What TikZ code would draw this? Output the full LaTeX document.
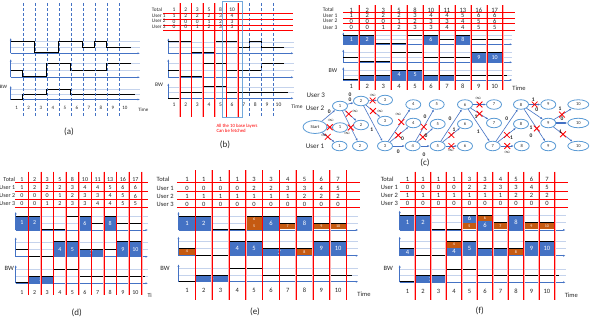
\documentclass[tikz,border=0pt]{standalone}
\usepackage{fontspec}
\setmainfont{Carlito}
\usetikzlibrary{arrows.meta,shapes.geometric,shapes.misc}
\definecolor{bwBlue}{HTML}{4472C4}
\definecolor{bwOrange}{HTML}{C55A11}
\definecolor{bwGrid}{HTML}{C5D3EC}
\definecolor{bwNode}{HTML}{5B9BD5}
\definecolor{bwInk}{HTML}{262626}
\newcommand\bwfs[1]{\fontsize{#1}{#1}\selectfont}
\tikzset{
  bw axis/.style={draw=bwBlue, line width=.6pt, -{Latex[length=2.5pt,width=2pt]}},
  bw grid/.style={draw=bwGrid, line width=.4pt},
  bw step/.style={draw=black, line width=.9pt},
  bw slot/.style={draw=red, line width=.5pt, preaction={draw=red!30, line width=1.6pt}},
  bw row/.style={draw=red, line width=.6pt},
  bw dash/.style={draw=bwBlue, densely dashed, line width=.4pt},
  bw base/.style={fill=bwBlue},
  bw enh/.style={fill=bwOrange},
  bw num/.style={text=white, inner sep=0pt},
  bw tab/.style={inner sep=0pt},
  bw frame/.style n args={4}{shift={(#1,#2)}, x=#3pt, y=#4pt},
  bw node/.style={ellipse, draw=bwNode, line width=.8pt, fill=white, minimum width=15pt, minimum height=9.5pt, inner sep=0pt, font=\bwfs{4.5}},
  bw flow/.style={draw=bwBlue, line width=.6pt, -{Latex[length=2.5pt,width=2pt]}},
  bw cut/.style={cross out, draw=red, line width=.8pt, minimum size=5pt, inner sep=0pt},
  bw wt/.style={font=\bwfs{5.5}\bfseries, inner sep=0pt},
  bw cap/.style={font=\bwfs{9}},
}
% bandwidth steps of the three users, in slots and fractions of the plot height
\def\bwstepA{(0,1) -- (2,1) -- (2,.05) -- (4,.05) -- (4,1) -- (6,1) -- (6,.5) -- (7,.5) -- (7,1) -- (8,1) -- (8,.5) -- (10,.5)}
\def\bwstepB{(0,.5) -- (1,.5) -- (1,.05) -- (3,.05) -- (3,1) -- (5,1) -- (5,.5) -- (8,.5) -- (8,1) -- (10,1)}
\def\bwstepC{(0,.03) -- (1,.03) -- (1,.5) -- (3,.5) -- (3,1) -- (5,1) -- (5,.5) -- (10.3,.5)}
\newcommand\bwplot[3]{%
  \draw[bw grid] (0,1) -- (#2,1) (0,.5) -- (#2,.5);
  #3
  \draw[bw axis] (0,0) -- (0,1.3);
  \draw[bw axis] (0,0) -- (#2,0);
  \draw[bw step] #1;}
\newcounter{bwblk}
\newcommand\bwblk[6][bw base]{%
  \stepcounter{bwblk}%
  \path[#1] (#2,#3) rectangle (#4,#5);
  \node[bw num] (blk\thebwblk) at ({(#2+#4)/2},{(#3+#5)/2}) {#6};}
\begin{document}
\begin{tikzpicture}[x=1pt,y=-1pt,text=bwInk]
\useasboundingbox (0,0) rectangle (598,330);
\fill[white] (0,0) rectangle (598,330);

% (a)
\begin{scope}[bw frame={10.7}{53.3}{12.03}{11.8}]\bwplot{\bwstepA}{10.75}{}\end{scope}
\begin{scope}[bw frame={10.7}{77.3}{12.03}{14}]\bwplot{\bwstepB}{10.75}{}\end{scope}
\begin{scope}[bw frame={10.7}{99.5}{12.03}{10.5}]\bwplot{\bwstepC}{10.75}{}\end{scope}
\begin{scope}[shift={(10.7,0)}, x=12.03pt, font=\bwfs{5}]
  \foreach \k in {1,...,9} \draw[bw dash] (\k,3) -- (\k,117);
  \foreach \k in {1,...,10} \node (as\k) at (\k-.5,107.7) {\k};
\end{scope}
\node[font=\bwfs{5}] (atime) at (143.3,110) {Time};
\node[font=\bwfs{5}] (abw) at (3.5,87.3) {BW};
\node[bw cap] (acap) at (69,132) {(a)};

% (b)
\begin{scope}[bw frame={168.3}{53.3}{11.6}{11.6}]\bwplot{\bwstepA}{10.8}{}\end{scope}
\begin{scope}[bw frame={168.3}{77.3}{11.6}{14}]\bwplot{\bwstepB}{10.8}{}\end{scope}
\begin{scope}[bw frame={168.3}{98.3}{11.6}{11.6}]\bwplot{\bwstepC}{10.8}{}\end{scope}
\begin{scope}[shift={(168.3,0)}, x=11.6pt, font=\bwfs{5.5}]
  \foreach \k in {1,...,6} \draw[bw slot] (\k,3.3) -- (\k,116.7);
  \foreach \k in {7,8,9} \draw[bw dash] (\k,3.3) -- (\k,116.7);
  \foreach \t/\y/\v [count=\i] in {Total/10/{1,2,3,5,8,10}, User 1/15.7/{1,2,2,2,3,4}, User 2/21.3/{0,0,0,1,2,3}, User 3/27/{0,0,1,2,3,3}}{
    \draw[bw row] (-.43,\y+3.5) -- (10.78,\y+3.5);
    \node[bw tab, anchor=west, font=\bwfs{5.2}] (br\i) at (-1.43,\y) {\t};
    \foreach \n [count=\c] in \v \node[bw tab] (b\i-\c) at (\c-.5,\y) {\n};
  }
  \foreach \k in {1,...,10} \node (bs\k) at (\k-.5,104.3) {\k};
\end{scope}
\draw[draw=bwNode, line width=1.4pt, opacity=.85] (222.7,1.7) rectangle (242.7,117.3);
\node[font=\bwfs{5.5}] (btime) at (297,107) {Time};
\node[font=\bwfs{5.5}] (bbw) at (159,85) {BW};
\node[anchor=west, text=red, font=\bwfs{4.8}, align=left] (bnote) at (213,128.3) {All the 10 base layers\\[1pt]Can be fetched};
\node[bw cap] (bcap) at (225,145) {(b)};

% (c)
\begin{scope}[bw frame={343.3}{44.3}{15.94}{9.3}, font=\bwfs{6}]
  \bwplot{\bwstepA}{10.6}{\bwblk{0}{0}{1}{1}{1}\bwblk{1}{0}{2}{1}{2}\bwblk{5}{0}{6}{1}{6}\bwblk{7}{0}{8}{1}{8}}
\end{scope}
\begin{scope}[bw frame={343.3}{62.3}{15.94}{10}, font=\bwfs{6}]
  \bwplot{\bwstepB}{10.6}{\bwblk{8}{0}{9}{1}{9}\bwblk{9}{0}{10}{1}{10}}
\end{scope}
\begin{scope}[bw frame={343.3}{80}{15.94}{10}, font=\bwfs{6}]
  \bwplot{\bwstepC}{10.6}{\bwblk{1}{0}{3}{.5}{3}\bwblk{3}{0}{4}{1}{4}\bwblk{4}{0}{5}{1}{5}\bwblk{5}{0}{7}{.5}{7}}
\end{scope}
\begin{scope}[shift={(343.3,0)}, x=15.94pt, font=\bwfs{6.5}]
  \foreach \k in {1,...,10} \draw[bw slot] (\k,5) -- (\k,90);
  \foreach \t/\y/\v [count=\i] in {Total/10/{1,2,3,5,8,10,11,13,16,17}, User 1/15.7/{1,2,2,2,3,4,4,5,6,6}, User 2/21/{0,0,0,1,2,3,3,4,5,6}, User 3/27.5/{0,0,1,2,3,3,4,4,5,5}}{
    \draw[bw row] (0,\y+2.6) -- (10.77,\y+2.6);
    \node[bw tab, anchor=west, font=\bwfs{5.5}] (cr\i) at (-1.29,\y) {\t};
    \foreach \n [count=\c] in \v \node[bw tab] (c\i-\c) at (\c-.5,\y) {\n};
  }
  \foreach \k in {1,...,10} \node (cs\k) at (\k-.5,86) {\k};
\end{scope}
\node[font=\bwfs{6.5}] (ctime) at (519,88) {Time};
\node[font=\bwfs{6}] (cbw) at (333,71) {BW};
% slot graph of (c)
\node[font=\bwfs{7}] (u3) at (315.8,95) {User 3};
\node[font=\bwfs{7}] (u2) at (315,108.3) {User 2};
\node[font=\bwfs{7}] (u1) at (315,146.7) {User 1};
\node[bw node, minimum width=24pt, minimum height=13pt, font=\bwfs{4.5}] (s) at (315,127) {Start};
\foreach \n/\x/\y/\t in {n1a/340/106/1, n1b/340/127.5/1, n1c/339.5/146/1, n2a/361/101/2, n2b/361/125/2, n2c/360/146/2,
  n3a/385/100/3, n3b/385/121/3, n3c/385/146/3, n4a/413.3/104.5/4, n4b/413.3/123/4, n4c/412.7/146/4,
  n5a/436.7/104.5/5, n5b/437.7/124/5, n5c/437.7/146/5, n6a/465/104.5/6, n6b/465/124/6, n6c/465/146/6,
  n7a/494/104.5/7, n7b/494/123/7, n7c/492.7/146/7, n8a/521/104.5/8, n8b/521/124/8, n8c/521.7/146/8,
  n9a/548.3/104.5/9, n9b/548.3/123/9, n9c/548.3/146/9}
  \node[bw node] (\n) at (\x,\y) {\t};
\foreach \n/\y in {n10a/104.5, n10b/123, n10c/146} \node[bw node, minimum width=21pt] (\n) at (578.3,\y) {10};
\foreach \a/\b in {s/n1a, n1a/n2a, n2a/n3c, n3c/n4c, n4c/n5c, n5c/n6a, n6a/n7c, n7c/n8a, n8a/n9b}
  \draw[bw flow] (\a) -- (\b);
\draw[bw flow, line width=1.2pt] (n9b) -- (n10b);
\foreach \a/\b/\p in {s/n1b/.5, s/n1c/.45, n1a/n2b/.35, n1a/n2c/.55, n2a/n3a/.45, n2a/n3b/.5, n3c/n4a/.6, n3c/n4b/.45,
  n4c/n5a/.45, n4c/n5b/.35, n5c/n6b/.5, n5c/n6c/.5, n6a/n7a/.5, n6a/n7b/.5, n7c/n8b/.5, n7c/n8c/.5,
  n8a/n9a/.5, n8a/n9c/.6, n9b/n10a/.45, n9b/n10c/.5}
  \draw[bw flow] (\a) -- node[bw cut, pos=\p] {} (\b);
\foreach \x/\y/\t [count=\i] in {329.3/111.7/0, 330.7/120.5/$\infty$, 324/135.5/$\infty$, 350/94.3/0, 350/99.3/0,
  355/111/$\infty$, 347/133/$\infty$, 372.7/95.7/$\infty$, 380/111.7/$\infty$, 371.7/130/1,
  398.3/114.3/$\infty$, 402.5/138.5/0, 398.3/152/0, 425/116.7/0, 426/136/0, 424/155/0,
  450/118.3/0, 454/130/1, 450.7/150.5/$\infty$, 478.3/98.8/$\infty$, 476/116.5/1, 478.3/131.7/1,
  506.7/118.3/0, 511.5/137.5/1, 507.3/152.3/$\infty$, 533.3/99.3/1, 536.7/110/0, 531/127.5/1, 531/135.7/0,
  560/108.8/1, 562/118.8/0, 560.5/131.5/1}
  \node[bw wt] (w\i) at (\x,\y) {\t};
\node[bw cap] (ccap) at (425,163) {(c)};

% (d)
\begin{scope}[bw frame={15.7}{230}{12.6}{14}, font=\bwfs{6}]
  \bwplot{\bwstepA}{10.5}{\bwblk{0}{0}{1}{1}{1}\bwblk{1}{0}{2}{1}{2}\bwblk{5}{0}{6}{1}{6}\bwblk{7}{0}{8}{1}{8}}
\end{scope}
\begin{scope}[bw frame={15.7}{256.7}{12.6}{15}, font=\bwfs{6}]
  \bwplot{\bwstepB}{10.5}{\bwblk{3}{0}{4}{1}{4}\bwblk{4}{0}{5}{1}{5}\bwblk{5}{0}{7}{.5}{7}\bwblk{8}{0}{9}{1}{9}\bwblk{9}{0}{10}{1}{10}}
\end{scope}
\begin{scope}[bw frame={15.7}{283.3}{12.6}{14}, font=\bwfs{6}]
  \bwplot{\bwstepC}{10.5}{\bwblk{1}{0}{3}{.5}{3}}
\end{scope}
\begin{scope}[shift={(15.7,0)}, x=12.6pt, font=\bwfs{6}]
  \foreach \k in {1,...,10} \draw[bw slot] (\k,171.7) -- (\k,295);
  \foreach \t/\y/\v [count=\i] in {Total/179.3/{1,2,3,5,8,10,11,13,16,17}, User 1/187.8/{1,2,2,2,3,4,4,5,6,6}, User 2/196/{0,0,0,1,2,3,3,4,5,6}, User 3/204/{0,0,1,2,3,3,4,4,5,5}}{
    \draw[bw row] (-.05,\y+3) -- (10.5,\y+3);
    \node[bw tab, anchor=east] (dr\i) at (-.03,\y) {\t};
    \foreach \n [count=\c] in \v \node[bw tab] (d\i-\c) at (\c-.5,\y) {\n};
  }
  \foreach \k in {1,...,10} \node (ds\k) at (\k-.5,292.3) {\k};
\end{scope}
\node[font=\bwfs{6}] (dtime) at (149.7,295) {Ti};
\node[font=\bwfs{6.5}] (dbw) at (9.3,268.3) {BW};
\node[bw cap] (dcap) at (76.7,312.7) {(d)};

% (e)
\begin{scope}[bw frame={178.5}{230}{16.8}{14}, font=\bwfs{6.5}]
  \bwplot{\bwstepA}{10.7}{\bwblk{0}{0}{1}{1}{1}\bwblk{1}{0}{2}{1}{2}%
    \bwblk[bw enh]{4}{.5}{5}{1}{\bwfs{4}6}\bwblk[bw enh]{4}{0}{5}{.5}{\bwfs{4}5}\bwblk{5}{0}{6}{1}{6}%
    \bwblk[bw enh]{6}{.05}{7}{.5}{\bwfs{4}7}\bwblk{7}{0}{8}{1}{8}%
    \bwblk[bw enh]{8}{.05}{9}{.5}{\bwfs{4}9}\bwblk[bw enh]{9}{.05}{10}{.5}{\bwfs{4}10}}
\end{scope}
\begin{scope}[bw frame={178.5}{255.7}{16.8}{14.7}, font=\bwfs{6.5}]
  \bwplot{\bwstepB}{10.7}{\bwblk[bw enh]{0}{.05}{1}{.5}{\bwfs{4}4}\bwblk{3}{0}{4}{1}{4}\bwblk{4}{0}{5}{1}{5}%
    \bwblk{5}{0}{7}{.5}{7}\bwblk[bw enh]{7}{.05}{8}{.5}{\bwfs{4}8}\bwblk{8}{0}{9}{1}{9}\bwblk{9}{0}{10}{1}{10}}
\end{scope}
\begin{scope}[bw frame={178.5}{281.7}{16.8}{13.4}, font=\bwfs{6.5}]
  \bwplot{\bwstepC}{10.7}{\bwblk{1}{0}{3}{.5}{3}}
\end{scope}
\begin{scope}[shift={(178.5,0)}, x=16.8pt, font=\bwfs{6.5}]
  \foreach \k in {1,...,10} \draw[bw slot] (\k,170) -- (\k,300);
  \foreach \t/\y/\v [count=\i] in {Total/179.3/{1,1,1,1,3,3,4,5,6,7}, User 1/188/{0,0,0,0,2,2,3,3,4,5}, User 2/196/{1,1,1,1,1,1,1,2,2,2}, User 3/204/{0,0,0,0,0,0,0,0,0,0}}{
    \draw[bw row] (-.1,\y+3.3) -- (10.8,\y+3.3);
    \node[bw tab, anchor=west] (er\i) at (-1.31,\y) {\t};
    \foreach \n [count=\c] in \v \node[bw tab] (e\i-\c) at (\c-.5,\y) {\n};
  }
  \foreach \k in {1,...,10} \node (es\k) at (\k-.5,290) {\k};
\end{scope}
\node[font=\bwfs{6.5}] (etime) at (364,294) {Time};
\node[font=\bwfs{6.5}] (ebw) at (165,268.3) {BW};
\node[bw cap] (ecap) at (255,311.7) {(e)};

% (f)
\begin{scope}[bw frame={399.7}{230}{15.5}{15}, font=\bwfs{6.5}]
  \bwplot{\bwstepA}{10.7}{\bwblk{0}{0}{1}{1}{1}\bwblk{1}{0}{2}{1}{2}%
    \bwblk{4}{.5}{5}{1}{6}\bwblk[bw enh]{4}{.05}{5}{.5}{\bwfs{4}5}%
    \bwblk[bw enh]{5}{.6}{6}{1}{\bwfs{4}6}\bwblk{5}{0}{6}{.6}{6}%
    \bwblk[bw enh]{6}{.05}{7}{.5}{\bwfs{4}7}\bwblk{7}{0}{8}{1}{8}%
    \bwblk[bw enh]{8}{.05}{9}{.5}{\bwfs{4}9}\bwblk[bw enh]{9}{.05}{10}{.5}{\bwfs{4}10}}
\end{scope}
\begin{scope}[bw frame={399.7}{255.7}{15.5}{14.7}, font=\bwfs{6.5}]
  \bwplot{\bwstepB}{10.7}{\bwblk{0}{0}{1}{.5}{4}%
    \bwblk[bw enh]{3}{.55}{4}{1}{\bwfs{4}4}\bwblk{3}{0}{4}{.55}{4}\bwblk{4}{0}{5}{1}{5}%
    \bwblk{5}{0}{7}{.5}{7}\bwblk[bw enh]{7}{.05}{8}{.5}{\bwfs{4}8}\bwblk{8}{0}{9}{1}{9}\bwblk{9}{0}{10}{1}{10}}
\end{scope}
\begin{scope}[bw frame={399.7}{282.3}{15.5}{13.3}, font=\bwfs{6.5}]
  \bwplot{\bwstepC}{10.7}{\bwblk{1}{0}{3}{.5}{3}}
\end{scope}
\begin{scope}[shift={(399.7,0)}, x=15.5pt, font=\bwfs{6.5}]
  \foreach \k in {1,...,10} \draw[bw slot] (\k,171.7) -- (\k,300);
  \foreach \t/\y/\v [count=\i] in {Total/179/{1,1,1,1,3,3,4,5,6,7}, User 1/187.3/{0,0,0,0,2,2,3,3,4,5}, User 2/195.3/{1,1,1,1,1,1,1,2,2,2}, User 3/203.5/{0,0,0,0,0,0,0,0,0,0}}{
    \draw[bw row] (0,\y+3.5) -- (10.86,\y+3.5);
    \node[bw tab, anchor=west] (fr\i) at (-1.23,\y) {\t};
    \foreach \n [count=\c] in \v \node[bw tab] (f\i-\c) at (\c-.5,\y) {\n};
  }
  \foreach \k in {1,...,10} \node (fs\k) at (\k-.5,291.7) {\k};
\end{scope}
\node[font=\bwfs{6.5}] (ftime) at (571.3,295) {Time};
\node[font=\bwfs{6.5}] (fbw) at (388.3,268.3) {BW};
\node[bw cap] (fcap) at (479.7,310.7) {(f)};
\end{tikzpicture}
\end{document}
